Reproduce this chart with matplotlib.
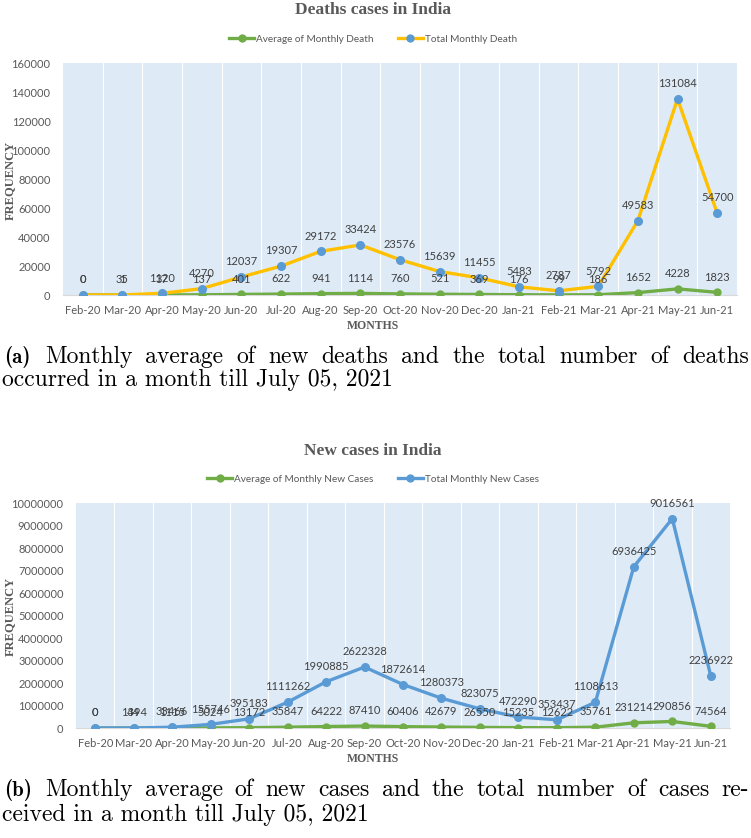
import matplotlib
matplotlib.use("Agg")
import matplotlib.pyplot as plt
from matplotlib.lines import Line2D
from matplotlib.ticker import FuncFormatter

months = ["Feb-20", "Mar-20", "Apr-20", "May-20", "Jun-20", "Jul-20", "Aug-20", "Sep-20",
          "Oct-20", "Nov-20", "Dec-20", "Jan-21", "Feb-21", "Mar-21", "Apr-21", "May-21", "Jun-21"]

# deaths (chart a)
avg_death = [0, 1, 37, 137, 401, 622, 941, 1114, 760, 521, 369, 176, 99, 186, 1652, 4228, 1823]
total_death = [0, 35, 1120, 4270, 12037, 19307, 29172, 33424, 23576, 15639, 11455, 5483, 2787,
               5792, 49583, 131084, 54700]

# new cases (chart b)
avg_cases = [0, 44, 1115, 5024, 13172, 35847, 64222, 87410, 60406, 42679, 26550, 15235, 12622,
             35761, 231214, 290856, 74564]
total_cases = [0, 1394, 33466, 155746, 395183, 1111262, 1990885, 2622328, 1872614, 1280373,
               823075, 472290, 353437, 1108613, 6936425, 9016561, 2236922]

GREEN = "#70AD47"
GOLD = "#FFC000"
BLUE = "#5B9BD5"
BG = "#DEEBF7"
TXT = "#595959"
LBL = "#404040"
SANS = "Lato"

W, H = 751, 838
fig = plt.figure(figsize=(W / 100, H / 100), dpi=100)


def px_axes(left, top, right, bottom):
    return fig.add_axes([left / W, 1 - bottom / H, (right - left) / W, (bottom - top) / H])


def draw_chart(ax, avg, total, total_color, total_marker, ymax, ystep):
    x = list(range(len(months)))
    # stacked line chart: total is drawn on top of average
    stacked = [a + t for a, t in zip(avg, total)]
    ax.set_facecolor(BG)
    ax.plot(x, avg, color=GREEN, lw=2.4, marker="o", ms=5, mfc=GREEN, mec=GREEN, zorder=3)
    ax.plot(x, stacked, color=total_color, lw=2.4, marker="o", ms=5.5, mfc=total_marker,
            mec=total_marker, zorder=4)
    for i in x:
        ax.annotate(str(avg[i]), (i, avg[i]), xytext=(0, 11), textcoords="offset points",
                    ha="center", va="center", fontsize=8, color=LBL, family=SANS, zorder=5)
        ax.annotate(str(total[i]), (i, stacked[i]), xytext=(0, 11), textcoords="offset points",
                    ha="center", va="center", fontsize=8, color=LBL, family=SANS, zorder=5)
    ax.set_xlim(-0.5, len(months) - 0.5)
    ax.set_ylim(0, ymax)
    ax.set_yticks(range(0, ymax + 1, ystep))
    ax.yaxis.set_major_formatter(FuncFormatter(lambda v, p: f"{int(round(v))}"))
    ax.set_xticks(x)
    ax.set_xticklabels(months)
    # white vertical lines between categories
    for b in range(1, len(months)):
        ax.axvline(b - 0.5, color="white", lw=0.8, zorder=1)
    for s in ["top", "right", "left"]:
        ax.spines[s].set_visible(False)
    ax.spines["bottom"].set_color("#D9D9D9")
    ax.tick_params(length=0, labelsize=8, labelcolor=TXT)
    ax.tick_params(axis="x", pad=7)
    ax.tick_params(axis="y", pad=9)
    for t in ax.get_xticklabels() + ax.get_yticklabels():
        t.set_family(SANS)


def legend(y, names, total_color, total_marker):
    h = [Line2D([], [], color=GREEN, lw=2.4, marker="o", ms=5, mfc=GREEN, mec=GREEN),
         Line2D([], [], color=total_color, lw=2.4, marker="o", ms=5, mfc=total_marker,
                mec=total_marker)]
    fig.legend(h, names, loc="center", bbox_to_anchor=(373 / W, 1 - y / H), ncol=2,
               frameon=False, handlelength=2.5, handletextpad=0.2, columnspacing=2.4,
               prop={"family": SANS, "size": 7.2}, labelcolor=TXT)


def justified(words, x0, x1, y, size):
    # place words so the line fills x0..x1 like a justified LaTeX line
    r = fig.canvas.get_renderer()
    items = [fig.text(0, 1 - y / H, w, ha="left", va="center", family="cmr10", fontsize=size)
             for w in words]
    widths = [t.get_window_extent(r).width for t in items]
    gap = (x1 - x0 - sum(widths)) / (len(words) - 1)
    x = x0
    for t, w in zip(items, widths):
        t.set_x(x / W)
        x += w + gap


# chart a
ax1 = px_axes(63, 63, 737, 295)
draw_chart(ax1, avg_death, total_death, GOLD, BLUE, 160000, 20000)
fig.text(373 / W, 1 - 10 / H, "Deaths cases in India", ha="center", va="center",
         family="Liberation Serif", weight="bold", fontsize=12.5, color=TXT)
legend(39, ["Average of Monthly Death", "Total Monthly Death"], GOLD, BLUE)
fig.text(10 / W, 1 - 180 / H, "FREQUENCY", rotation=90, ha="center", va="center",
         family="Liberation Serif", weight="bold", fontsize=9, color=TXT)
fig.text(373 / W, 1 - 326 / H, "MONTHS", ha="center", va="center",
         family="Liberation Serif", weight="bold", fontsize=8.5, color=TXT)

# chart b
ax2 = px_axes(76, 503, 730, 728)
draw_chart(ax2, avg_cases, total_cases, BLUE, BLUE, 10000000, 1000000)
fig.text(373 / W, 1 - 451 / H, "New cases in India", ha="center", va="center",
         family="Liberation Serif", weight="bold", fontsize=12.5, color=TXT)
legend(479, ["Average of Monthly New Cases", "Total Monthly New Cases"], BLUE, BLUE)
fig.text(10 / W, 1 - 616 / H, "FREQUENCY", rotation=90, ha="center", va="center",
         family="Liberation Serif", weight="bold", fontsize=9, color=TXT)
fig.text(373 / W, 1 - 759 / H, "MONTHS", ha="center", va="center",
         family="Liberation Serif", weight="bold", fontsize=8.5, color=TXT)

# captions
CAP = 17
fig.text(4 / W, 1 - 357 / H, "(a)", ha="left", va="center", family="cmb10", fontsize=CAP - 2)
justified("Monthly average of new deaths and the total number of deaths".split(),
          45, 749, 357, CAP)
fig.text(2 / W, 1 - 380 / H, "occurred in a month till July 05, 2021", ha="left", va="center",
         family="cmr10", fontsize=CAP)
fig.text(4 / W, 1 - 790 / H, "(b)", ha="left", va="center", family="cmb10", fontsize=CAP - 2)
justified("Monthly average of new cases and the total number of cases re-".split(),
          45, 749, 790, CAP)
fig.text(2 / W, 1 - 815 / H, "ceived in a month till July 05, 2021", ha="left", va="center",
         family="cmr10", fontsize=CAP)

fig.savefig("out.png", dpi=100)
